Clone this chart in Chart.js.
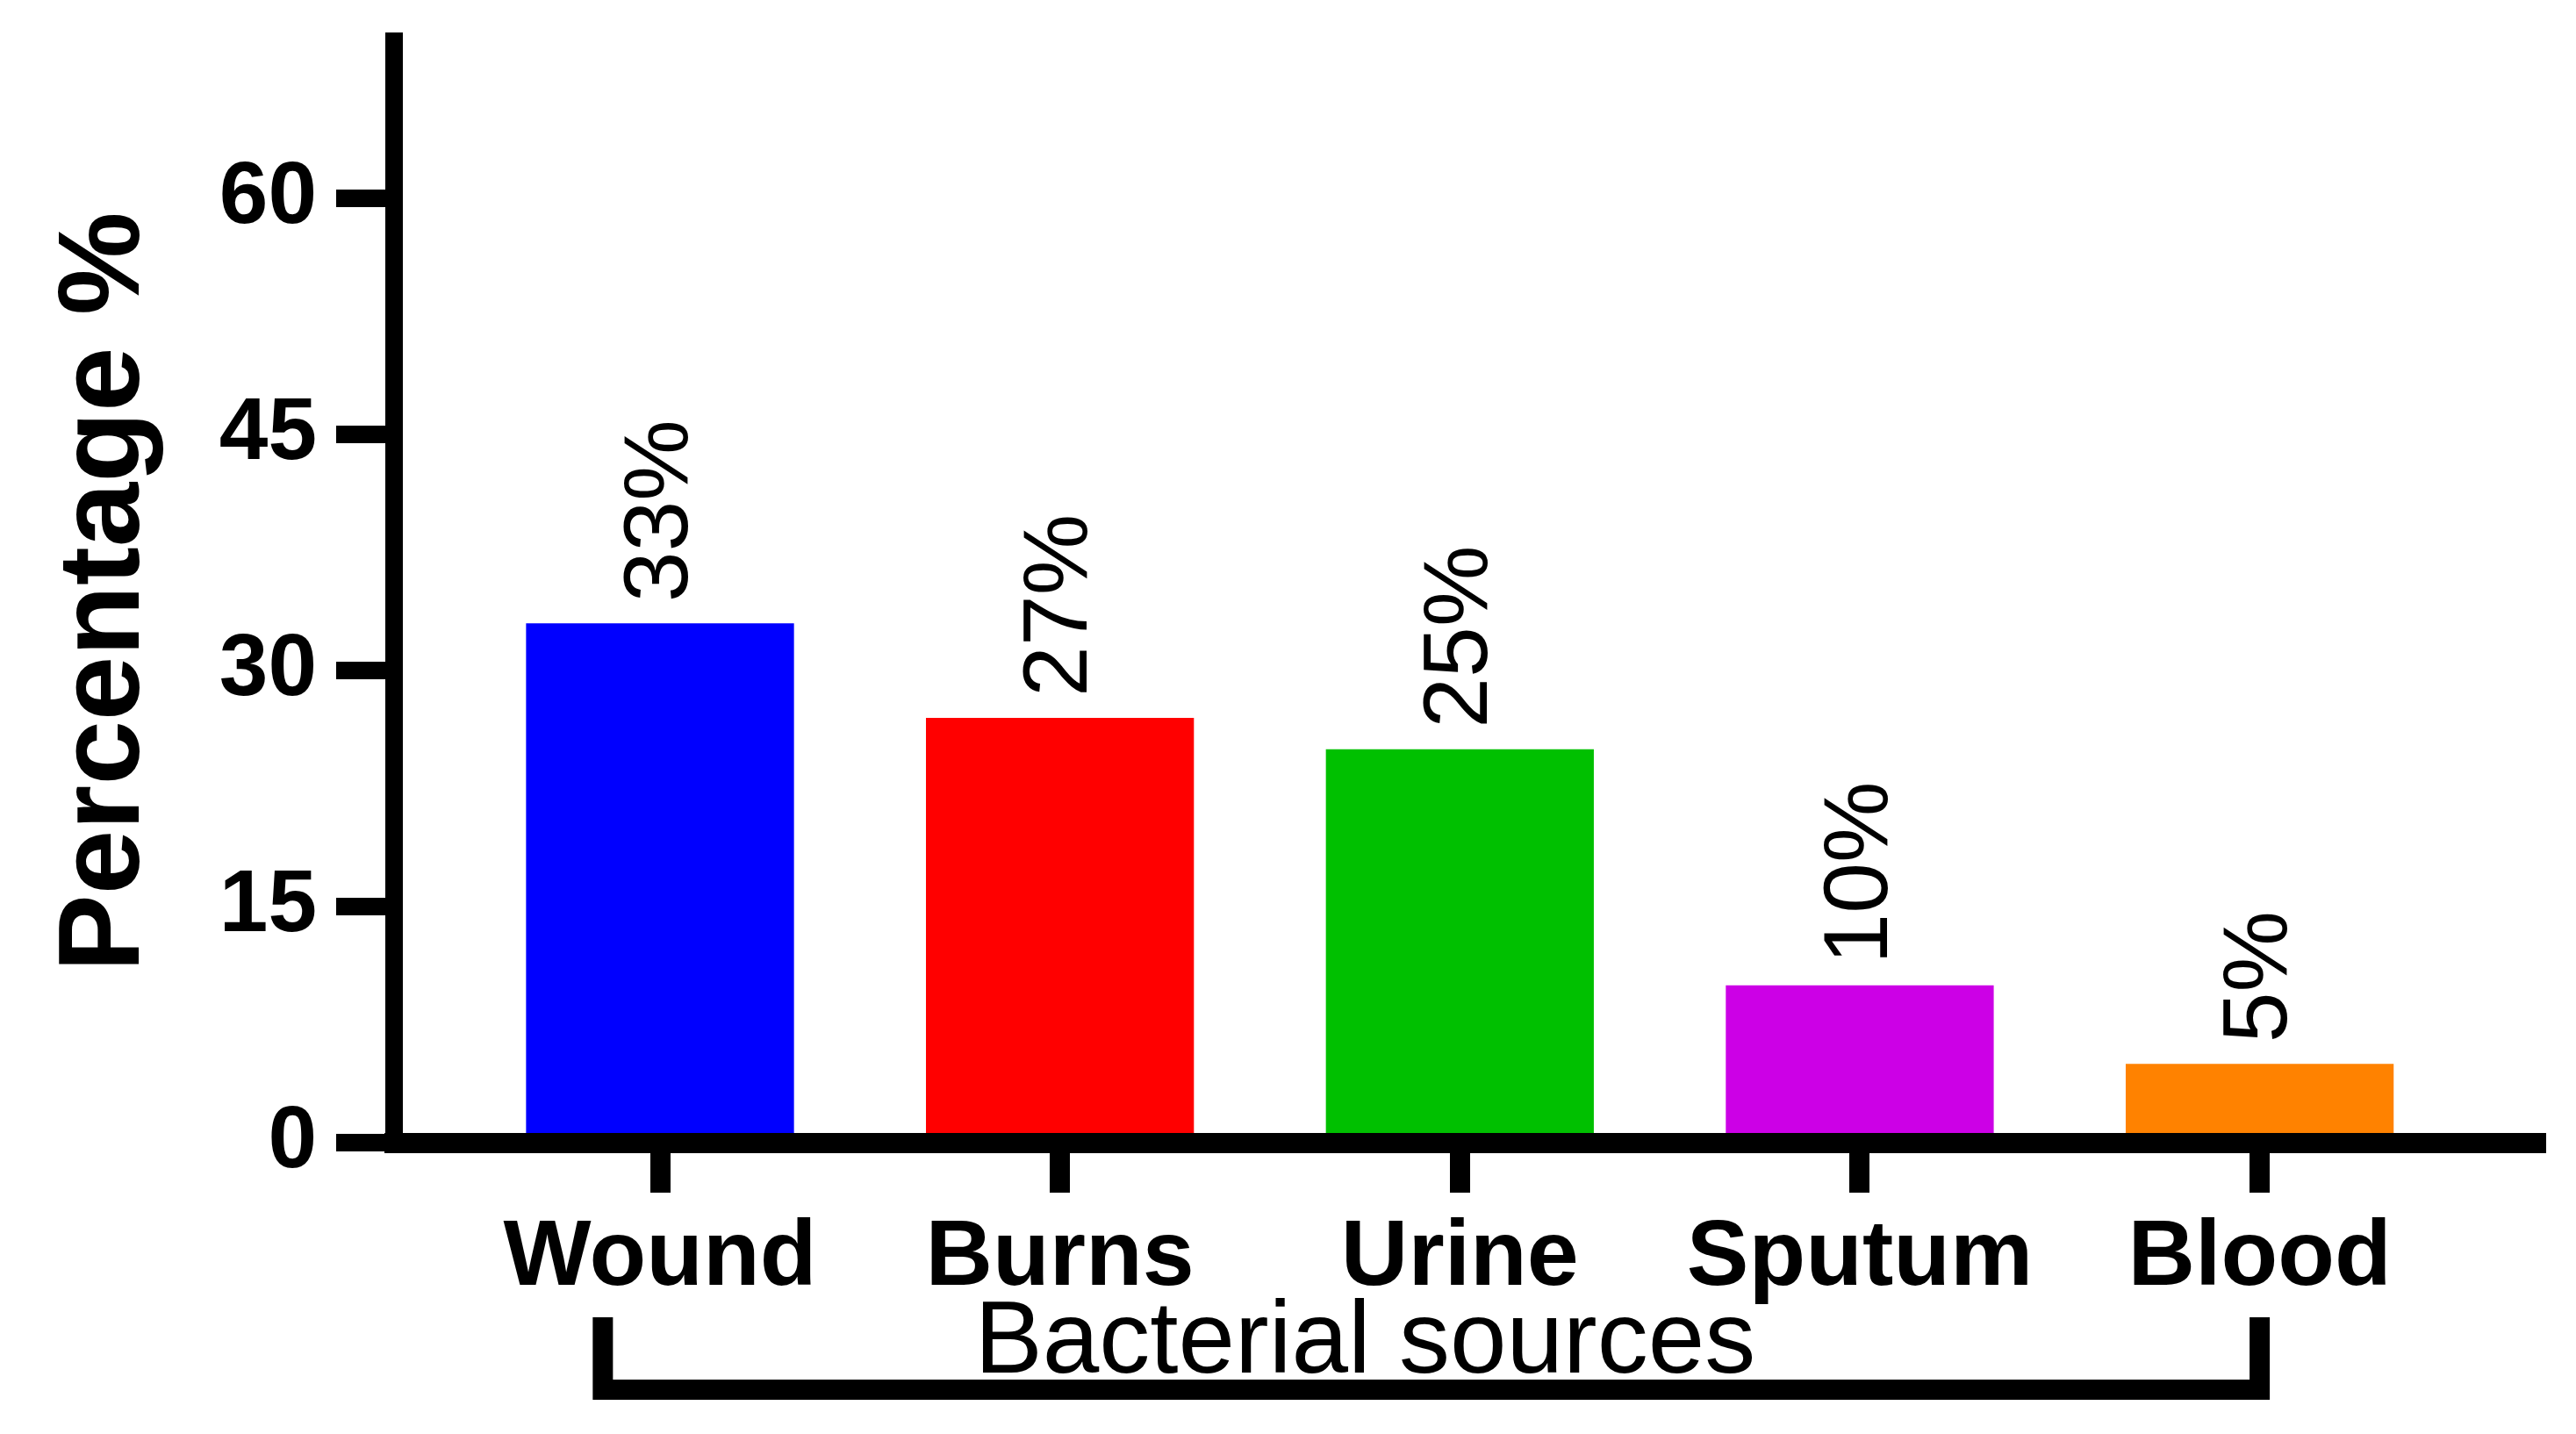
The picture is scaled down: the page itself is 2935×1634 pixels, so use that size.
<!DOCTYPE html>
<html>
<head>
<meta charset="utf-8">
<title>Bacterial sources</title>
<script src="https://cdn.jsdelivr.net/npm/chart.js@4/dist/chart.umd.min.js"></script>
<style>
  html, body { margin: 0; padding: 0; background: #fff; }
  canvas { display: block; }
</style>
</head>
<body>
<canvas id="chart" width="2935" height="1634"></canvas>
<script>
var categories = ['Wound', 'Burns', 'Urine', 'Sputum', 'Blood'];
var percentages = [33, 27, 25, 10, 5];
var barColors = ['#0000ff', '#ff0000', '#00c000', '#cc00e6', '#ff8200'];
var yTickStep = 15;
var yMax = 70;
var xTitle = 'Bacterial sources';
var yTitle = 'Percentage %';

var fontFamily = "'Liberation Sans', Arial, Helvetica, sans-serif";

// value labels above bars, plus the bracket and title under the x axis
var extras = {
    id: 'extras',
    afterDraw: function (chart) {
        var ctx = chart.ctx;
        var meta = chart.getDatasetMeta(0);
        ctx.save();
        ctx.fillStyle = '#000';
        ctx.font = '104px ' + fontFamily;
        ctx.textAlign = 'left';
        ctx.textBaseline = 'middle';
        meta.data.forEach(function (bar, i) {
            ctx.save();
            ctx.translate(bar.x + 2, bar.y - 24);
            ctx.rotate(-Math.PI / 2);
            ctx.fillText(percentages[i] + '%', 0, 0);
            ctx.restore();
        });

        var x = chart.scales.x;
        var left = x.getPixelForValue(-0.143);
        var right = x.getPixelForValue(4);
        ctx.strokeStyle = '#000';
        ctx.lineWidth = 23;
        ctx.lineCap = 'butt';
        ctx.lineJoin = 'miter';
        ctx.beginPath();
        ctx.moveTo(left, 1501);
        ctx.lineTo(left, 1583.5);
        ctx.lineTo(right, 1583.5);
        ctx.lineTo(right, 1501);
        ctx.stroke();

        ctx.font = '116px ' + fontFamily;
        ctx.textAlign = 'center';
        ctx.textBaseline = 'alphabetic';
        ctx.fillText(xTitle, x.getPixelForValue(1.763), 1564);
        ctx.restore();
    }
};

var ctx = document.getElementById('chart');
var myChart = new Chart(ctx, {
    type: 'bar',
    data: {
        datasets: [{
            data: percentages.map(function (v, i) { return { x: i, y: v }; }),
            backgroundColor: barColors,
            borderWidth: 0,
            barPercentage: 1,
            categoryPercentage: 0.67
        }]
    },
    options: {
        responsive: false,
        animation: false,
        devicePixelRatio: 1,
        layout: {
            padding: { top: 47, right: 46, left: 0, bottom: 0 }
        },
        plugins: {
            legend: { display: false },
            tooltip: { enabled: false }
        },
        scales: {
            x: {
                type: 'linear',
                min: -0.665,
                max: 4.69,
                offset: false,
                afterFit: function (s) {
                    s.height = 332;
                    s.paddingLeft = 0;
                    s.paddingRight = 0;
                },
                grid: {
                    offset: false,
                    drawOnChartArea: false,
                    drawTicks: true,
                    tickLength: 57,
                    lineWidth: 23,
                    color: '#000'
                },
                border: { color: '#000', width: 23, z: 1 },
                ticks: {
                    stepSize: 1,
                    includeBounds: false,
                    autoSkip: false,
                    maxRotation: 0,
                    padding: 12,
                    color: '#000',
                    font: { family: fontFamily, size: 106, weight: 'bold' },
                    callback: function (v) { return categories[v]; }
                }
            },
            y: {
                min: 0,
                max: yMax,
                afterFit: function (s) {
                    s.width = 449;
                    s.paddingTop = 0;
                    s.paddingBottom = 0;
                },
                grid: {
                    drawOnChartArea: false,
                    drawTicks: true,
                    tickLength: 66,
                    lineWidth: 20,
                    color: '#000'
                },
                border: { color: '#000', width: 20, z: 1 },
                ticks: {
                    stepSize: yTickStep,
                    includeBounds: false,
                    padding: 22,
                    color: '#000',
                    font: { family: fontFamily, size: 100, weight: 'bold' }
                },
                title: {
                    display: true,
                    text: yTitle,
                    color: '#000',
                    padding: { top: 42, bottom: 0 },
                    font: { family: fontFamily, size: 132, weight: 'bold' }
                }
            }
        }
    },
    plugins: [extras]
});
</script>
</body>
</html>
